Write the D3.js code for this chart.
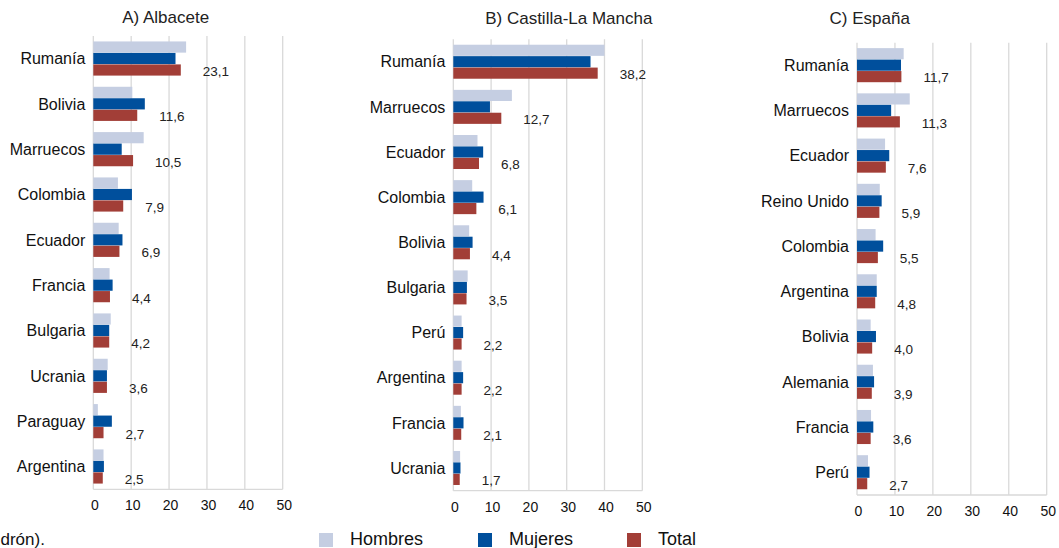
<!DOCTYPE html>
<html><head><meta charset="utf-8">
<script src="https://cdn.jsdelivr.net/npm/d3@7/dist/d3.min.js"></script>
<style>html,body{margin:0;padding:0;background:#fff}svg{display:block}</style>
</head><body>
<svg id="c" width="1059" height="548"></svg>
<script>
const seriesNames = ["Hombres", "Mujeres", "Total"];
const colors = ["#c5cee2", "#004f9c", "#a23e37"];
const ticks = [0, 10, 20, 30, 40, 50];

const catA = ["Rumanía","Bolivia","Marruecos","Colombia","Ecuador","Francia","Bulgaria","Ucrania","Paraguay","Argentina"];
const homA = [24.5, 10.3, 13.3, 6.5, 6.7, 4.3, 4.6, 3.8, 1.2, 2.7];
const mujA = [21.7, 13.6, 7.5, 10.2, 7.7, 5.1, 4.2, 3.6, 4.9, 2.8];
const totA = [23.1, 11.6, 10.5, 7.9, 6.9, 4.4, 4.2, 3.6, 2.7, 2.5];

const catB = ["Rumanía","Marruecos","Ecuador","Colombia","Bolivia","Bulgaria","Perú","Argentina","Francia","Ucrania"];
const homB = [40.0, 15.5, 6.4, 5.0, 4.2, 3.8, 2.2, 2.2, 2.0, 1.8];
const mujB = [36.3, 9.7, 7.9, 8.0, 5.1, 3.6, 2.6, 2.6, 2.7, 1.9];
const totB = [38.2, 12.7, 6.8, 6.1, 4.4, 3.5, 2.2, 2.2, 2.1, 1.7];

const catC = ["Rumanía","Marruecos","Ecuador","Reino Unido","Colombia","Argentina","Bolivia","Alemania","Francia","Perú"];
const homC = [12.3, 13.9, 7.4, 6.0, 4.9, 5.2, 3.6, 4.2, 3.7, 2.9];
const mujC = [11.6, 9.0, 8.5, 6.5, 6.9, 5.2, 5.0, 4.5, 4.3, 3.3];
const totC = [11.7, 11.3, 7.6, 5.9, 5.5, 4.8, 4.0, 3.9, 3.6, 2.7];

const titles = ["A) Albacete", "B) Castilla-La Mancha", "C) España"];

const svg = d3.select("#c");
const fontMain = "'Liberation Sans', Arial, sans-serif";

const panels = [
  {title: titles[0], cats: catA, vals: [homA, mujA, totA], x0: 93.3, x1: 282.7, top: 36, bottom: 489.3, tx: 165.7, ty: 17},
  {title: titles[1], cats: catB, vals: [homB, mujB, totB], x0: 453.3, x1: 642.3, top: 39.3, bottom: 490.7, tx: 568.8, ty: 18.3},
  {title: titles[2], cats: catC, vals: [homC, mujC, totC], x0: 857, x1: 1046.7, top: 42.7, bottom: 495, tx: 869.7, ty: 18.3}
];

panels.forEach(p => {
  const g = svg.append("g");
  const x = d3.scaleLinear().domain([0, 50]).range([p.x0, p.x1]);
  const y = d3.scaleBand().domain(p.cats).range([p.top, p.bottom]).paddingInner(0.24).paddingOuter(0.12);
  const ys = d3.scaleBand().domain(seriesNames).range([0, y.bandwidth()]);

  g.selectAll("line.grid").data(ticks).join("line")
    .attr("x1", d => x(d)).attr("x2", d => x(d))
    .attr("y1", p.top).attr("y2", p.bottom)
    .attr("stroke", "#d9d9d9").attr("stroke-width", 1.3);
  g.append("line").attr("x1", p.x0).attr("x2", p.x1).attr("y1", p.bottom).attr("y2", p.bottom)
    .attr("stroke", "#d9d9d9").attr("stroke-width", 1.3);

  seriesNames.forEach((s, si) => {
    g.selectAll("rect.s" + si).data(p.cats).join("rect")
      .attr("x", x(0))
      .attr("y", c => y(c) + ys(s))
      .attr("width", (c, i) => x(p.vals[si][i]) - x(0))
      .attr("height", ys.bandwidth() - 0.3)
      .attr("fill", colors[si]);
  });

  g.selectAll("text.val").data(p.cats).join("text")
    .attr("x", (c, i) => x(p.vals[2][i]) + 22)
    .attr("y", c => y(c) + ys("Total") + ys.bandwidth() / 2 + 1)
    .attr("dy", "0.35em")
    .attr("font-family", fontMain).attr("font-size", 13.5).attr("fill", "#222")
    .text((c, i) => d3.format(".1f")(p.vals[2][i]).replace(".", ","));

  g.selectAll("text.cat").data(p.cats).join("text")
    .attr("x", p.x0 - 8)
    .attr("y", c => y(c) + y.bandwidth() / 2)
    .attr("dy", "0.35em").attr("text-anchor", "end")
    .attr("font-family", fontMain).attr("font-size", 16).attr("fill", "#111")
    .text(c => c);

  g.selectAll("text.tick").data(ticks).join("text")
    .attr("x", d => x(d) + 1.5)
    .attr("y", p.bottom + 16)
    .attr("dy", "0.35em").attr("text-anchor", "middle")
    .attr("font-family", fontMain).attr("font-size", 14).attr("fill", "#111")
    .text(d => d);

  g.append("text").attr("x", p.tx).attr("y", p.ty).attr("dy", "0.35em")
    .attr("text-anchor", "middle")
    .attr("font-family", fontMain).attr("font-size", 17).attr("fill", "#222")
    .text(p.title);
});

const legendX = [319, 478, 627];
const lg = svg.append("g");
seriesNames.forEach((s, i) => {
  lg.append("rect").attr("x", legendX[i]).attr("y", 533).attr("width", 14).attr("height", 14).attr("fill", colors[i]);
  lg.append("text").attr("x", legendX[i] + 31).attr("y", 539).attr("dy", "0.35em")
    .attr("font-family", fontMain).attr("font-size", 18).attr("fill", "#111").text(s);
});

svg.append("text").attr("x", 0.5).attr("y", 539).attr("dy", "0.35em")
  .attr("font-family", fontMain).attr("font-size", 17).attr("fill", "#111").text("drón).");
</script>
</body></html>
